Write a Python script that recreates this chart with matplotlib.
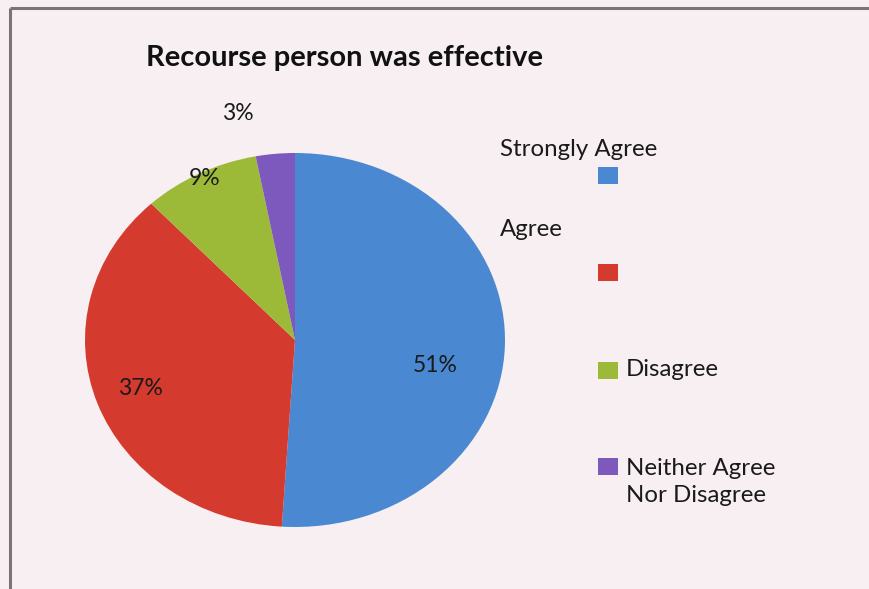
import matplotlib
matplotlib.use("Agg")
import matplotlib.pyplot as plt
from matplotlib.patches import Rectangle

# ---- data ----
title = "Recourse person was effective"
categories = ["Strongly Agree", "Agree", "Disagree", "Neither Agree\nNor Disagree"]
values = [51, 37, 9, 3]
pct_labels = ["51%", "37%", "9%", "3%"]
colors = ["#4a89d2", "#d53a2e", "#9cba38", "#7d58bd"]

# ---- layout (pixel based) ----
W, H = 870, 589
bg = "#f8eff3"
plt.rcParams['font.family'] = ['Lato', 'DejaVu Sans']

fig = plt.figure(figsize=(W / 100, H / 100), dpi=100, facecolor=bg)

# overlay axes in pixel coordinates
ov = fig.add_axes([0, 0, 1, 1])
ov.set_xlim(0, W)
ov.set_ylim(H, 0)
ov.axis("off")
ov.set_facecolor(bg)

# border (top + left)
ov.plot([10, W + 5], [8, 8], color="#7a7478", lw=2.2, solid_capstyle="butt", clip_on=False)
ov.plot([10, 10], [8, H + 5], color="#7a7478", lw=2.2, solid_capstyle="butt", clip_on=False)

# title
ov.text(345, 58, title, ha="center", va="center", fontsize=21, fontweight="bold",
        color="#111111")

# pie axes (elliptical, as in the scan)
px0, px1, py0, py1 = 85, 505, 153, 527
pax = fig.add_axes([px0 / W, 1 - py1 / H, (px1 - px0) / W, (py1 - py0) / H])
wedges, _ = pax.pie(values, colors=colors, startangle=90, counterclock=False,
                    radius=1.0, wedgeprops=dict(linewidth=0))
pax.set_aspect("auto")
pax.set_xlim(-1, 1)
pax.set_ylim(-1, 1)
pax.axis("off")

label_pos = [(0.667, -0.134), (-0.738, -0.257), (-0.43, 0.866), (-0.27, 1.21)]
for lab, (lx, ly) in zip(pct_labels, label_pos):
    pax.text(lx, ly, lab, ha="center", va="center", fontsize=16.5, color="#1a1a1a",
             clip_on=False)

# legend (manual, mimicking the reference layout)
sq_w, sq_h = 20, 17
sq_x = 598
sq_y = [175, 272, 370, 466]
txt_pos = [(500, 150), (500, 230), (626, 370), (626, 482)]
for cat, col, sy, (tx, ty) in zip(categories, colors, sq_y, txt_pos):
    ov.add_patch(Rectangle((sq_x, sy - sq_h / 2), sq_w, sq_h, facecolor=col, edgecolor="none"))
    ov.text(tx, ty, cat, ha="left", va="center", fontsize=17.3, color="#1a1a1a",
            linespacing=1.38)

fig.savefig("out.png", dpi=100, facecolor=bg)
